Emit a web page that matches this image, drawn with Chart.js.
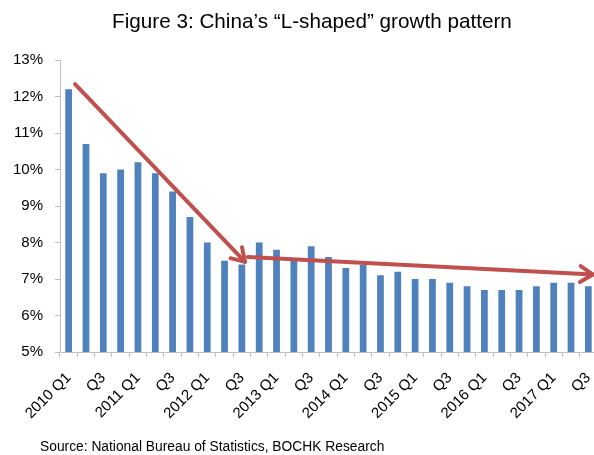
<!DOCTYPE html>
<html>
<head>
<meta charset="utf-8">
<script src="https://cdn.jsdelivr.net/npm/chart.js@4/dist/chart.umd.min.js"></script>
<style>
  body { margin: 0; background: #fff; }
  #wrap { position: relative; width: 594px; height: 455px; overflow: hidden; }
  #title { position: absolute; left: 112px; top: 11px; line-height: 1; white-space: nowrap;
    font-family: "Liberation Sans", Arial, sans-serif; font-size: 20.7px; color: #000; }
  #source { position: absolute; left: 40px; top: 440px; line-height: 1; white-space: nowrap;
    font-family: "Liberation Sans", Arial, sans-serif; font-size: 13.8px; color: #000; }
  canvas { position: absolute; left: 0; top: 0; }
</style>
</head>
<body>
<div id="wrap">
  <canvas id="gdp" width="600" height="455"></canvas>
  <div id="title">Figure 3: China’s “L-shaped” growth pattern</div>
  <div id="source">Source: National Bureau of Statistics, BOCHK Research</div>
</div>
<script>
const quarters = [
  '2010 Q1','2010 Q2','2010 Q3','2010 Q4',
  '2011 Q1','2011 Q2','2011 Q3','2011 Q4',
  '2012 Q1','2012 Q2','2012 Q3','2012 Q4',
  '2013 Q1','2013 Q2','2013 Q3','2013 Q4',
  '2014 Q1','2014 Q2','2014 Q3','2014 Q4',
  '2015 Q1','2015 Q2','2015 Q3','2015 Q4',
  '2016 Q1','2016 Q2','2016 Q3','2016 Q4',
  '2017 Q1','2017 Q2','2017 Q3'
];
const tickLabels = [
  '2010 Q1','','Q3','',
  '2011 Q1','','Q3','',
  '2012 Q1','','Q3','',
  '2013 Q1','','Q3','',
  '2014 Q1','','Q3','',
  '2015 Q1','','Q3','',
  '2016 Q1','','Q3','',
  '2017 Q1','','Q3'
];
const gdpGrowth = [
  12.2, 10.7, 9.9, 10.0,
  10.2, 9.9, 9.4, 8.7,
  8.0, 7.5, 7.4, 8.0,
  7.8, 7.5, 7.9, 7.6,
  7.3, 7.4, 7.1, 7.2,
  7.0, 7.0, 6.9, 6.8,
  6.7, 6.7, 6.7, 6.8,
  6.9, 6.9, 6.8
];
// trend arrows, in (category index, %) units
const arrows = [
  { from: [0.37, 12.34], to: [10.18, 7.47] },
  { from: [10.35, 7.6], to: [30.27, 7.12] }
];

const arrowPlugin = {
  id: 'arrows',
  afterDatasetsDraw(chart) {
    const { ctx, scales: { x, y } } = chart;
    ctx.save();
    ctx.strokeStyle = '#C0504D';
    ctx.lineWidth = 4;
    ctx.lineCap = 'round';
    ctx.lineJoin = 'round';
    arrows.forEach(a => {
      const x1 = x.getPixelForValue(a.from[0]), y1 = y.getPixelForValue(a.from[1]);
      const x2 = x.getPixelForValue(a.to[0]), y2 = y.getPixelForValue(a.to[1]);
      const ang = Math.atan2(y2 - y1, x2 - x1);
      const head = 15, spread = 0.56;
      ctx.beginPath();
      ctx.moveTo(x1, y1);
      ctx.lineTo(x2, y2);
      ctx.stroke();
      ctx.beginPath();
      ctx.moveTo(x2 - head * Math.cos(ang - spread), y2 - head * Math.sin(ang - spread));
      ctx.lineTo(x2, y2);
      ctx.lineTo(x2 - head * Math.cos(ang + spread), y2 - head * Math.sin(ang + spread));
      ctx.stroke();
    });
    ctx.restore();
  }
};

new Chart(document.getElementById('gdp'), {
  type: 'bar',
  data: {
    labels: quarters,
    datasets: [{
      data: gdpGrowth,
      backgroundColor: '#4F81BD',
      categoryPercentage: 1,
      barPercentage: 0.39
    }]
  },
  options: {
    responsive: false,
    animation: false,
    layout: { padding: { top: 60, right: 3, bottom: 0, left: 0 } },
    plugins: { legend: { display: false }, tooltip: { enabled: false } },
    scales: {
      x: {
        afterFit: s => { s.height = 103; s.paddingRight = 0; s.paddingLeft = 0; },
        grid: { offset: true, drawOnChartArea: false, tickLength: 5, color: '#bfbfbf' },
        border: { color: '#bfbfbf' },
        ticks: {
          autoSkip: false,
          minRotation: 45,
          maxRotation: 45,
          padding: 12,
          color: '#000',
          font: { family: 'Liberation Sans, Arial', size: 15 },
          callback: (v, i) => tickLabels[i]
        }
      },
      y: {
        min: 5,
        max: 13,
        afterFit: s => { s.width = 60; },
        grid: { drawOnChartArea: false, tickLength: 5, color: '#bfbfbf' },
        border: { color: '#bfbfbf' },
        ticks: {
          stepSize: 1,
          padding: 12,
          color: '#000',
          font: { family: 'Liberation Sans, Arial', size: 15 },
          callback: v => v + '%'
        }
      }
    }
  },
  plugins: [arrowPlugin]
});
</script>
</body>
</html>
